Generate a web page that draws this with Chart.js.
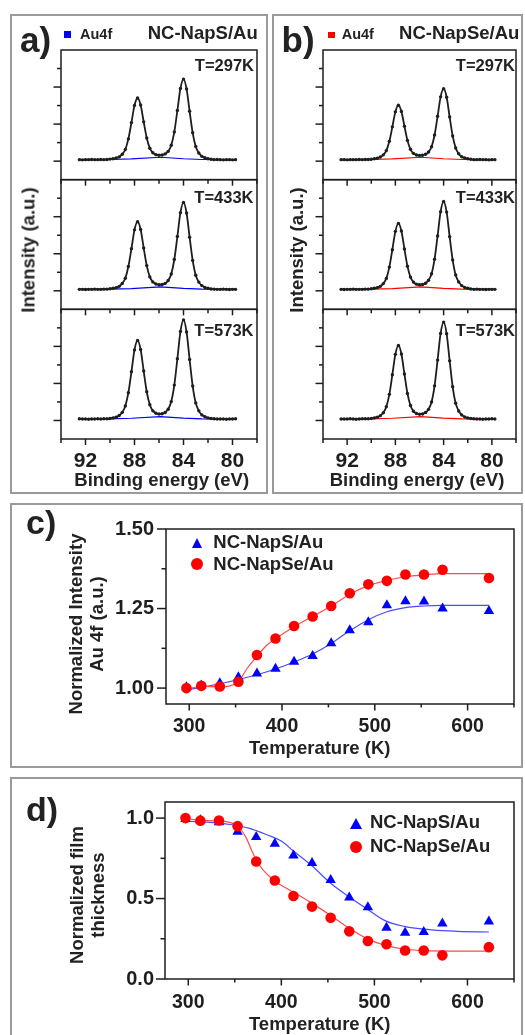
<!DOCTYPE html>
<html>
<head>
<meta charset="utf-8">
<script src="https://cdn.jsdelivr.net/npm/chart.js@4.4.1/dist/chart.umd.min.js"></script>
<style>
  html, body { margin: 0; padding: 0; background: #fff; }
  #page { position: relative; width: 525px; height: 1035px; overflow: hidden;
          font-family: "Liberation Sans", Arial, sans-serif; font-weight: bold; color: #222; }
  .box { position: absolute; border: 2px solid #9a9a9a; box-sizing: border-box; }
  canvas { position: absolute; }
  .t { position: absolute; white-space: nowrap; line-height: 1; }
  .rot { position: absolute; white-space: pre; text-align: center;
         transform: translate(-50%, -50%) rotate(-90deg); }
  .sq { position: absolute; }
  .tri { position: absolute; width: 0; height: 0; border-left: 5.5px solid transparent;
         border-right: 5.5px solid transparent; border-bottom: 10px solid #0000ff; }
  .dot { position: absolute; border-radius: 50%; background: #ff0000; }
</style>
</head>
<body>
<div id="page">
  <div class="box" style="left:10px;top:14px;width:258px;height:480px"></div>
  <div class="box" style="left:272px;top:14px;width:251px;height:480px"></div>
  <div class="box" style="left:10px;top:503px;width:513px;height:265px"></div>
  <div class="box" style="left:10px;top:777px;width:513px;height:270px"></div>

  <canvas id="cvA" width="254" height="476" style="left:12px;top:16px"></canvas>
  <canvas id="cvB" width="245" height="476" style="left:275px;top:16px"></canvas>
  <canvas id="cvC" width="508" height="260" style="left:12px;top:505px"></canvas>
  <canvas id="cvD" width="508" height="256" style="left:12px;top:779px"></canvas>

  <div class="sq" style="left:64px;top:31px;width:7px;height:6.5px;background:#0000ff"></div>
  <div class="sq" style="left:328px;top:32px;width:6.5px;height:6px;background:#ff0000"></div>
  <div class="tri" style="left:191.5px;top:537.5px"></div>
  <div class="dot" style="left:190.5px;top:558px;width:12px;height:12px"></div>
  <div class="tri" style="left:349.5px;top:817.5px;border-left-width:6.5px;border-right-width:6.5px;border-bottom-width:11.5px"></div>
  <div class="dot" style="left:350px;top:840.5px;width:12px;height:12px"></div>
</div>
<script>
// Au 4f spectra (binding energy in eV, intensity in arbitrary units)
const energies = [92.5, 92.25, 92, 91.75, 91.5, 91.25, 91, 90.75, 90.5, 90.25,
  90, 89.75, 89.5, 89.25, 89, 88.75, 88.5, 88.25, 88, 87.75,
  87.5, 87.25, 87, 86.75, 86.5, 86.25, 86, 85.75, 85.5, 85.25,
  85, 84.75, 84.5, 84.25, 84, 83.75, 83.5, 83.25, 83, 82.75,
  82.5, 82.25, 82, 81.75, 81.5, 81.25, 81, 80.75, 80.5, 80.25,
  80, 79.75];

const napS297 = [1.08, 1.07, 1.08, 1.08, 1.09, 1.08, 1.08, 1.09, 1.08, 1.09,
  1.11, 1.13, 1.17, 1.23, 1.37, 1.63, 2.20, 3.08, 4.01, 4.41,
  4.03, 3.12, 2.25, 1.70, 1.45, 1.35, 1.32, 1.33, 1.39, 1.53,
  1.86, 2.58, 3.73, 4.92, 5.43, 4.90, 3.69, 2.53, 1.79, 1.44,
  1.26, 1.18, 1.13, 1.10, 1.08, 1.09, 1.08, 1.07, 1.08, 1.08,
  1.07, 1.08];
const napS433 = [1.08, 1.08, 1.07, 1.08, 1.08, 1.09, 1.08, 1.08, 1.09, 1.09,
  1.11, 1.14, 1.17, 1.24, 1.40, 1.68, 2.31, 3.27, 4.29, 4.73,
  4.31, 3.31, 2.36, 1.75, 1.48, 1.37, 1.33, 1.34, 1.40, 1.56,
  1.91, 2.69, 3.93, 5.22, 5.77, 5.20, 3.89, 2.64, 1.84, 1.47,
  1.28, 1.18, 1.14, 1.10, 1.09, 1.08, 1.08, 1.09, 1.08, 1.07,
  1.08, 1.08];
const napS573 = [1.09, 1.08, 1.08, 1.07, 1.08, 1.08, 1.09, 1.08, 1.09, 1.09,
  1.11, 1.14, 1.18, 1.27, 1.44, 1.78, 2.50, 3.63, 4.81, 5.32,
  4.83, 3.67, 2.55, 1.85, 1.52, 1.39, 1.35, 1.36, 1.43, 1.61,
  2.02, 2.91, 4.33, 5.80, 6.43, 5.78, 4.29, 2.86, 1.95, 1.52,
  1.30, 1.20, 1.14, 1.11, 1.09, 1.08, 1.08, 1.08, 1.07, 1.08,
  1.08, 1.09];

const napSe297 = [1.08, 1.08, 1.07, 1.08, 1.08, 1.08, 1.09, 1.08, 1.09, 1.09,
  1.10, 1.13, 1.16, 1.22, 1.34, 1.57, 2.07, 2.85, 3.66, 4.02,
  3.68, 2.89, 2.12, 1.64, 1.42, 1.33, 1.31, 1.32, 1.37, 1.49,
  1.78, 2.41, 3.42, 4.47, 4.91, 4.45, 3.38, 2.36, 1.71, 1.40,
  1.24, 1.17, 1.13, 1.10, 1.08, 1.08, 1.09, 1.08, 1.08, 1.07,
  1.08, 1.08];
const napSe433 = [1.08, 1.07, 1.08, 1.08, 1.09, 1.08, 1.08, 1.08, 1.09, 1.09,
  1.11, 1.14, 1.17, 1.24, 1.39, 1.67, 2.28, 3.22, 4.21, 4.64,
  4.23, 3.26, 2.33, 1.74, 1.47, 1.36, 1.33, 1.34, 1.41, 1.57,
  1.92, 2.71, 3.96, 5.27, 5.82, 5.25, 3.92, 2.66, 1.85, 1.48,
  1.28, 1.18, 1.14, 1.10, 1.08, 1.09, 1.08, 1.08, 1.07, 1.08,
  1.08, 1.08];
const napSe573 = [1.08, 1.08, 1.08, 1.09, 1.08, 1.07, 1.08, 1.09, 1.09, 1.09,
  1.11, 1.14, 1.18, 1.26, 1.42, 1.74, 2.41, 3.47, 4.57, 5.05,
  4.59, 3.51, 2.46, 1.81, 1.50, 1.38, 1.34, 1.35, 1.43, 1.60,
  2.00, 2.87, 4.26, 5.70, 6.31, 5.68, 4.22, 2.82, 1.93, 1.51,
  1.30, 1.19, 1.14, 1.11, 1.09, 1.08, 1.08, 1.07, 1.08, 1.08,
  1.09, 1.08];

// background under the doublet
const bgEnergy = [92.5, 90.0, 88.25, 85.9, 84.0, 82.5, 79.75];
const bgLevel = [1.08, 1.09, 1.12, 1.21, 1.13, 1.09, 1.08];

const beLabels = [92, 88, 84, 80];

// temperature series
const temps = [297, 313, 333, 353, 373, 393, 413, 433, 453, 473, 493, 513, 533, 553, 573, 623];
const intNapS = [1.003, 1.008, 1.015, 1.034, 1.046, 1.061, 1.083, 1.101, 1.141, 1.182, 1.207, 1.260, 1.273, 1.272, 1.250, 1.242];
const intNapSe = [1.000, 1.007, 1.005, 1.020, 1.104, 1.156, 1.195, 1.225, 1.258, 1.298, 1.326, 1.337, 1.357, 1.357, 1.372, 1.346];
const thkNapS = [0.995, 0.986, 0.974, 0.915, 0.882, 0.841, 0.768, 0.721, 0.615, 0.506, 0.446, 0.319, 0.288, 0.292, 0.345, 0.357];
const thkNapSe = [1.000, 0.984, 0.985, 0.950, 0.730, 0.612, 0.516, 0.450, 0.381, 0.296, 0.236, 0.216, 0.177, 0.177, 0.147, 0.198];

// fitted curves
const intFitST = [295, 313, 333, 353, 373, 393, 413, 433, 453, 473, 493, 513, 533, 553, 573, 623];
const intFitS = [0.992, 1.003, 1.013, 1.027, 1.042, 1.060, 1.082, 1.107, 1.140, 1.180, 1.215, 1.240, 1.253, 1.258, 1.260, 1.260];
const intFitSeT = [296, 313, 333, 353, 362, 373, 383, 393, 413, 433, 453, 473, 493, 513, 533, 553, 573, 623];
const intFitSe = [0.995, 1.005, 1.004, 1.020, 1.060, 1.100, 1.133, 1.155, 1.193, 1.225, 1.258, 1.295, 1.322, 1.338, 1.350, 1.356, 1.360, 1.360];
const thkFitST = [295, 320, 345, 366, 385, 400, 412, 432, 454, 473, 491, 512, 532, 562, 590, 623];
const thkFitS = [0.982, 0.975, 0.960, 0.936, 0.895, 0.857, 0.800, 0.708, 0.590, 0.510, 0.440, 0.361, 0.327, 0.305, 0.296, 0.292];
const thkFitSeT = [297, 313, 333, 353, 362, 368, 374, 380, 394, 413, 433, 453, 473, 493, 513, 533, 560, 623];
const thkFitSe = [1.000, 0.985, 0.982, 0.950, 0.880, 0.800, 0.730, 0.680, 0.605, 0.540, 0.470, 0.395, 0.315, 0.248, 0.207, 0.185, 0.175, 0.173];

const tempLabels = [300, 400, 500, 600];

const INK = '#1e1e1e';
const FONT = '"Liberation Sans", Arial, sans-serif';
Chart.defaults.font.family = FONT;
Chart.defaults.color = INK;

const page = document.getElementById('page');

// box + tick marks, drawn from the chart's own scales
const framePlugin = {
  id: 'frame',
  afterDatasetsDraw(chart, args, o) {
    const { ctx, chartArea: area, scales } = chart;
    const xs = scales.x;
    const line = (x1, y1, x2, y2) => { ctx.beginPath(); ctx.moveTo(x1, y1); ctx.lineTo(x2, y2); ctx.stroke(); };
    ctx.save();
    ctx.strokeStyle = INK;
    ctx.lineWidth = 1.5;
    o.yAxes.forEach(id => {
      const ys = scales[id];
      ctx.strokeRect(area.left, ys.top, area.right - area.left, ys.bottom - ys.top);
      o.yMajor.forEach(v => { const p = ys.getPixelForValue(v); line(area.left - o.yLen[0], p, area.left, p); });
      o.yMinor.forEach(v => { const p = ys.getPixelForValue(v); line(area.left - o.yLen[1], p, area.left, p); });
      o.xMajor.forEach(v => { const p = xs.getPixelForValue(v); line(p, ys.bottom, p, ys.bottom + o.xLen[0]); });
      o.xMinor.forEach(v => { const p = xs.getPixelForValue(v); line(p, ys.bottom, p, ys.bottom + o.xLen[1]); });
    });
    ctx.restore();
  }
};

const pts = (xs, ys) => xs.map((x, i) => ({ x, y: ys[i] }));

function spectrumChart(id, spectra, bgColor, axisWidth, padRight) {
  const datasets = [];
  spectra.forEach((s, k) => {
    const axis = 'y' + (k + 1);
    datasets.push({ data: pts(energies, s), yAxisID: axis, borderColor: INK, backgroundColor: INK,
      borderWidth: 1.8, pointRadius: 1.7, pointBorderWidth: 0, cubicInterpolationMode: 'monotone', order: 0 });
    datasets.push({ data: pts(bgEnergy, bgLevel), yAxisID: axis, borderColor: bgColor,
      borderWidth: 1.2, pointRadius: 0, tension: 0, order: 1 });
  });
  const stacked = w => ({
    type: 'linear', position: 'left', stack: 'spec', stackWeight: 1, weight: w,
    min: 0, max: 7, grid: { display: false, drawTicks: false }, border: { display: false },
    ticks: { display: false }, afterFit: s => { s.width = axisWidth; }
  });
  return new Chart(document.getElementById(id), {
    type: 'line',
    data: { datasets },
    options: {
      responsive: false, animation: false, devicePixelRatio: 1, events: [],
      layout: { padding: { left: 0, right: padRight, top: 34, bottom: 0 } },
      plugins: {
        legend: { display: false }, tooltip: { enabled: false },
        frame: { yAxes: ['y1', 'y2', 'y3'], yMajor: [1, 3, 5], yMinor: [2, 4, 6], yLen: [7.5, 4],
                 xMajor: [92, 88, 84, 80], xMinor: [94, 90, 86, 82, 78], xLen: [6, 4] }
      },
      scales: {
        x: {
          type: 'linear', min: 78, max: 94, reverse: true,
          grid: { display: false, drawTicks: false }, border: { display: false },
          ticks: { font: { size: 21, weight: 'bold' }, color: INK, padding: 10, autoSkip: false, maxRotation: 0 },
          afterBuildTicks: s => { s.ticks = beLabels.map(v => ({ value: v })); },
          afterFit: s => { s.height = 53; }
        },
        y1: stacked(3), y2: stacked(2), y3: stacked(1)
      }
    },
    plugins: [framePlugin]
  });
}

function tempChart(id, cfg) {
  return new Chart(document.getElementById(id), {
    type: 'line',
    data: {
      datasets: [
        { data: pts(temps, cfg.se), showLine: false, pointStyle: 'circle', pointRadius: 5.3,
          backgroundColor: '#ff0000', borderColor: '#ff0000', pointBorderWidth: 0, order: 0 },
        { data: pts(temps, cfg.s), showLine: false, pointStyle: 'triangle', pointRadius: 6,
          backgroundColor: '#0000ff', borderColor: '#0000ff', pointBorderWidth: 0, order: 1 },
        { data: pts(cfg.fitSeT, cfg.fitSe), borderColor: '#ff4a4a', borderWidth: 1.2, pointRadius: 0,
          cubicInterpolationMode: 'monotone', order: 2 },
        { data: pts(cfg.fitST, cfg.fitS), borderColor: '#4a4aff', borderWidth: 1.2, pointRadius: 0,
          cubicInterpolationMode: 'monotone', order: 3 }
      ]
    },
    options: {
      responsive: false, animation: false, devicePixelRatio: 1, events: [],
      layout: { padding: { left: 0, right: 4, top: cfg.top, bottom: 0 } },
      plugins: {
        legend: { display: false }, tooltip: { enabled: false },
        frame: { yAxes: ['y'], yMajor: cfg.yLabels, yMinor: cfg.yMinor, yLen: [9, 4.5],
                 xMajor: tempLabels, xMinor: [350, 450, 550, 650], xLen: [6.5, 3.5] }
      },
      scales: {
        x: {
          type: 'linear', min: 275, max: 650,
          grid: { display: false, drawTicks: false }, border: { display: false },
          ticks: { font: { size: 19.5, weight: 'bold' }, color: INK, padding: cfg.xPad, autoSkip: false, maxRotation: 0 },
          afterBuildTicks: s => { s.ticks = tempLabels.map(v => ({ value: v })); },
          afterFit: s => { s.height = cfg.xHeight; }
        },
        y: {
          type: 'linear', min: cfg.yMin, max: cfg.yMax,
          grid: { display: false, drawTicks: false }, border: { display: false },
          ticks: { font: { size: 20, weight: 'bold' }, color: INK, padding: cfg.yPad, autoSkip: false,
                   callback: v => v.toFixed(cfg.digits) },
          afterBuildTicks: s => { s.ticks = cfg.yLabels.map(v => ({ value: v })); },
          afterFit: s => { s.width = cfg.yWidth; }
        }
      }
    },
    plugins: [framePlugin]
  });
}

spectrumChart('cvA', [napS297, napS433, napS573], '#0000ff', 49, 9);
spectrumChart('cvB', [napSe297, napSe433, napSe573], '#ff0000', 48, 2);

tempChart('cvC', {
  s: intNapS, se: intNapSe, fitST: intFitST, fitS: intFitS, fitSeT: intFitSeT, fitSe: intFitSe,
  yMin: 0.95, yMax: 1.5, yLabels: [1.0, 1.25, 1.5], yMinor: [1.125, 1.375], digits: 2,
  top: 14, xHeight: 61, yWidth: 154, xPad: 11, yPad: 12
});
tempChart('cvD', {
  s: thkNapS, se: thkNapSe, fitST: thkFitST, fitS: thkFitS, fitSeT: thkFitSeT, fitSe: thkFitSe,
  yMin: 0, yMax: 1.1, yLabels: [0, 0.5, 1.0], yMinor: [0.25, 0.75], digits: 1,
  top: 16, xHeight: 56, yWidth: 153, xPad: 12, yPad: 11
});

// text placed by baseline
function label(text, x, base, size, align) {
  const d = document.createElement('div');
  d.className = 't';
  d.textContent = text;
  d.style.fontSize = size + 'px';
  d.style.top = (base - 0.8465 * size) + 'px';
  if (align === 'right') d.style.right = (525 - x) + 'px';
  else if (align === 'center') { d.style.left = x + 'px'; d.style.transform = 'translateX(-50%)'; }
  else d.style.left = x + 'px';
  page.appendChild(d);
}
function vlabel(text, cx, cy, size, lh) {
  const d = document.createElement('div');
  d.className = 'rot';
  d.textContent = text;
  d.style.fontSize = size + 'px';
  d.style.lineHeight = lh + 'px';
  d.style.left = cx + 'px';
  d.style.top = cy + 'px';
  page.appendChild(d);
}

label('a)', 20, 52, 35, 'left');
label('b)', 281.5, 52, 35, 'left');
label('c)', 26, 534, 34, 'left');
label('d)', 26, 821, 34, 'left');

label('Au4f', 80, 39.3, 14.5, 'left');
label('NC-NapS/Au', 257.7, 39.3, 18.5, 'right');
label('Au4f', 341.7, 39.3, 14.5, 'left');
label('NC-NapSe/Au', 519.3, 39.3, 18.5, 'right');

label('T=297K', 254, 71, 16.5, 'right');
label('T=433K', 253.5, 203.3, 16.5, 'right');
label('T=573K', 253.5, 335.7, 16.5, 'right');
label('T=297K', 515, 71, 16.5, 'right');
label('T=433K', 515, 203.3, 16.5, 'right');
label('T=573K', 515, 335.5, 16.5, 'right');

label('Binding energy (eV)', 161.7, 486.5, 18.5, 'center');
label('Binding energy (eV)', 417, 486.5, 18.5, 'center');
vlabel('Intensity (a.u.)', 27.5, 250, 18.5, 21);
vlabel('Intensity (a.u.)', 296, 250, 18.5, 21);

label('NC-NapS/Au', 213.3, 548.3, 18.5, 'left');
label('NC-NapSe/Au', 213.3, 570.7, 18.5, 'left');
vlabel('Normalized Intensity\nAu 4f (a.u.)', 86, 624, 18.5, 21);
label('Temperature (K)', 319.7, 755, 18.5, 'center');

label('NC-NapS/Au', 370, 829, 18.5, 'left');
label('NC-NapSe/Au', 370, 852.3, 18.5, 'left');
vlabel('Normalized film\nthickness', 86.5, 895, 18.5, 21);
label('Temperature (K)', 319.7, 1031, 18.5, 'center');
</script>
</body>
</html>
